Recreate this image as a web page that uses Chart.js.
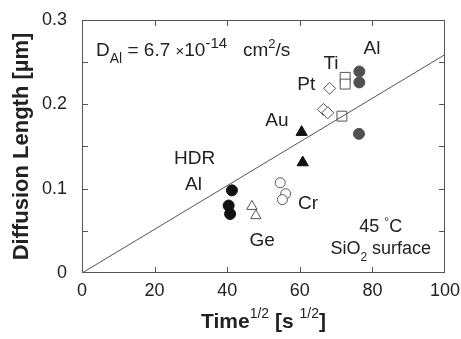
<!DOCTYPE html>
<html>
<head>
<meta charset="utf-8">
<script src="https://cdn.jsdelivr.net/npm/chart.js@4"></script>
<style>
  html, body { margin: 0; padding: 0; background: #fff; }
  #wrap { width: 461px; height: 339px; }
</style>
</head>
<body>
<div id="wrap"><canvas id="chart"></canvas></div>
<script>
// data (x = sqrt(time) in s^1/2, y = diffusion length in um)
const fitX = [0, 100];
const fitY = [0, 0.259];

const alX = [76.4, 76.4, 76.3];
const alY = [0.239, 0.226, 0.165];

const hdrAlX = [41.3, 40.4, 40.8];
const hdrAlY = [0.098, 0.080, 0.070];

const geX = [46.8, 47.9];
const geY = [0.079, 0.068];

const crX = [54.6, 56.1, 55.2];
const crY = [0.107, 0.094, 0.087];

const auX = [60.5, 60.8];
const auY = [0.167, 0.131];

const ptX = [68.2, 66.5, 67.7];
const ptY = [0.219, 0.194, 0.190];

const tiX = [72.5, 72.5, 71.6];
const tiY = [0.232, 0.224, 0.186];

const xTicks = [0, 20, 40, 60, 80, 100];
const yTicks = [0, 0.1, 0.2, 0.3];

function pts(xs, ys) {
    return xs.map((x, i) => ({ x: x, y: ys[i] }));
}

const FONT = '"Liberation Sans", Arial, sans-serif';
const INK = '#222';
const GRAY = '#555';

// draws a run of text pieces (normal / superscript / subscript) in one line
function drawRuns(ctx, runs, x, y, align) {
    let total = 0;
    runs.forEach(r => {
        ctx.font = (r.bold ? 'bold ' : '') + r.size + 'px ' + FONT;
        r.w = ctx.measureText(r.t).width;
        total += r.w;
    });
    let cx = x;
    if (align === 'center') cx = x - total / 2;
    ctx.textAlign = 'left';
    ctx.textBaseline = 'alphabetic';
    runs.forEach(r => {
        ctx.font = (r.bold ? 'bold ' : '') + r.size + 'px ' + FONT;
        ctx.fillText(r.t, cx, y + (r.dy || 0));
        cx += r.w;
    });
}

// box, inward ticks, annotation texts and axis titles
const frameAndText = {
    id: 'frameAndText',
    afterDatasetsDraw(chart) {
        const { ctx, chartArea: a, scales: { x, y } } = chart;
        ctx.save();
        ctx.strokeStyle = GRAY;
        ctx.lineWidth = 1;
        ctx.strokeRect(a.left + 0.5, a.top + 0.5, a.right - a.left - 1, a.bottom - a.top - 1);
        ctx.beginPath();
        for (let v = 20; v < 100; v += 20) {
            const px = Math.round(x.getPixelForValue(v)) + 0.5;
            ctx.moveTo(px, a.bottom); ctx.lineTo(px, a.bottom - 6);
            ctx.moveTo(px, a.top); ctx.lineTo(px, a.top + 6);
        }
        for (let k = 1; k < 6; k++) {
            const py = Math.round(y.getPixelForValue(k * 0.05)) + 0.5;
            ctx.moveTo(a.left, py); ctx.lineTo(a.left + 6, py);
            ctx.moveTo(a.right, py); ctx.lineTo(a.right - 6, py);
        }
        ctx.stroke();

        ctx.fillStyle = INK;
        const lab = (t, vx, vy) => {
            drawRuns(ctx, [{ t: t, size: 19 }], x.getPixelForValue(vx), y.getPixelForValue(vy) + 7, 'center');
        };
        lab('Al', 79.9, 0.268);
        lab('Ti', 68.6, 0.250);
        lab('Pt', 61.8, 0.225);
        lab('Au', 53.7, 0.183);
        lab('HDR', 31.0, 0.138);
        lab('Al', 30.7, 0.107);
        lab('Cr', 62.3, 0.084);
        lab('Ge', 49.6, 0.040);

        drawRuns(ctx, [
            { t: '45 ', size: 18 }, { t: '°', size: 12, dy: -6 }, { t: 'C', size: 18 }
        ], x.getPixelForValue(82.3), y.getPixelForValue(0.056) + 6, 'center');
        drawRuns(ctx, [
            { t: 'SiO', size: 18 }, { t: '2', size: 12, dy: 7 }, { t: ' surface', size: 18 }
        ], x.getPixelForValue(82.3), y.getPixelForValue(0.030) + 6, 'center');

        drawRuns(ctx, [
            { t: 'D', size: 19 }, { t: 'Al', size: 14, dy: 7 },
            { t: ' = 6.7 ', size: 19 }, { t: '×', size: 15 }, { t: '10', size: 19 },
            { t: '-14', size: 15, dy: -8 },
            { t: '   cm', size: 19 }, { t: '2', size: 13, dy: -8 }, { t: '/s', size: 19 }
        ], a.left + 14, a.top + 36, 'left');

        // axis titles
        drawRuns(ctx, [
            { t: 'Time', size: 21, bold: true }, { t: '1/2', size: 14, dy: -10 },
            { t: ' [s ', size: 21, bold: true }, { t: '1/2', size: 14, dy: -10 },
            { t: ']', size: 21, bold: true }
        ], (a.left + a.right) / 2, 328, 'center');

        ctx.translate(28, (a.top + a.bottom) / 2);
        ctx.rotate(-Math.PI / 2);
        drawRuns(ctx, [{ t: 'Diffusion Length [µm]', size: 22, bold: true }], 0, 0, 'center');
        ctx.restore();
    }
};

const openStyle = { backgroundColor: '#fff', borderColor: GRAY, borderWidth: 1 };

new Chart(document.getElementById('chart'), {
    type: 'scatter',
    data: {
        datasets: [
            {
                label: 'fit', data: pts(fitX, fitY), showLine: true,
                borderColor: GRAY, borderWidth: 1, pointRadius: 0
            },
            { label: 'Al', data: pts(alX, alY), pointStyle: 'circle', pointRadius: 5.5,
              backgroundColor: '#505050', borderColor: '#505050' },
            { label: 'HDR Al', data: pts(hdrAlX, hdrAlY), pointStyle: 'circle', pointRadius: 5.5,
              backgroundColor: '#111', borderColor: '#111' },
            { label: 'Ge', data: pts(geX, geY), pointStyle: 'triangle', pointRadius: 6, ...openStyle },
            { label: 'Cr', data: pts(crX, crY), pointStyle: 'circle', pointRadius: 5, ...openStyle },
            { label: 'Au', data: pts(auX, auY), pointStyle: 'triangle', pointRadius: 6.5,
              backgroundColor: '#111', borderColor: '#111' },
            { label: 'Pt', data: pts(ptX, ptY), pointStyle: 'rectRot', pointRadius: 6, ...openStyle },
            { label: 'Ti', data: pts(tiX, tiY), pointStyle: 'rect', pointRadius: 7, ...openStyle }
        ]
    },
    options: {
        responsive: true,
        maintainAspectRatio: false,
        animation: false,
        layout: { padding: { left: 0, right: 16, top: 20, bottom: 0 } },
        plugins: {
            legend: { display: false },
            tooltip: { enabled: false }
        },
        scales: {
            x: {
                type: 'linear', min: 0, max: 100,
                afterFit: s => { s.height = 66; s.paddingLeft = 0; s.paddingRight = 0; },
                afterBuildTicks: s => { s.ticks = xTicks.map(v => ({ value: v })); },
                grid: { display: false, drawTicks: false },
                border: { display: false },
                ticks: {
                    color: INK, padding: 7, maxRotation: 0,
                    font: { family: FONT, size: 18 }
                }
            },
            y: {
                type: 'linear', min: 0, max: 0.3,
                afterFit: s => { s.width = 82; s.paddingTop = 0; s.paddingBottom = 0; },
                afterBuildTicks: s => { s.ticks = yTicks.map(v => ({ value: v })); },
                grid: { display: false, drawTicks: false },
                border: { display: false },
                ticks: {
                    color: INK, padding: 15,
                    font: { family: FONT, size: 18 },
                    callback: v => (v === 0 ? '0' : v.toFixed(1))
                }
            }
        }
    },
    plugins: [frameAndText]
});
</script>
</body>
</html>
